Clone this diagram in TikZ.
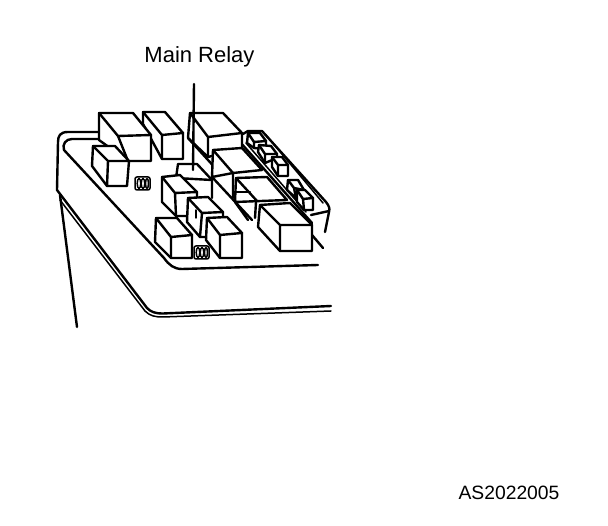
\documentclass[tikz,border=0pt]{standalone}
\usepackage{fontspec}
\setmainfont{Liberation Sans}
\tikzset{
  ln/.style={line width=1.5pt,line join=round,line cap=round,black},
  hv/.style={line width=2.4pt,line join=round,line cap=round,black},
  lbl/.style={inner sep=0pt,font=\fontsize{22}{26}\selectfont,text=black}
}
\newcommand{\rbox}[7]{%
  \fill[white] #1 -- #2 -- #3 -- #5 -- #6 -- #7 -- cycle;
  \draw[hv] #1 -- #2 -- #3 -- #5 -- #6 -- #7 -- cycle;
  \draw[hv] #1 -- #4 -- #3 #4 -- #6;
}
\newcommand{\fusegroup}[2]{%
  \draw[ln,fill=white,rounded corners=2pt] (#1,#2) rectangle ++(15,13);
  \draw[ln] (#1+4,#2+6.5) ellipse (1.8 and 5);
  \draw[ln] (#1+8,#2+6.5) ellipse (1.8 and 5);
  \draw[ln] (#1+12,#2+6.5) ellipse (1.5 and 5);
}
\begin{document}
\begin{tikzpicture}[x=1pt,y=-1pt]
\useasboundingbox (0,0) rectangle (608,526);
\fill[white] (0,0) rectangle (608,526);
\node[lbl] (title) at (199.5,56.5) {Main Relay};
\node[lbl,font=\fontsize{19.3}{23}\selectfont] (code) at (509,493) {AS2022005};
% housing
\draw[hv] (99,132) -- (68,132) .. controls (60,132) and (58,136) .. (58,142) -- (57,190) -- (147,308) .. controls (151,312) and (155,313.5) .. (163,313.5) -- (331,306);
\draw[ln] (60,200) -- (145,311) .. controls (150,316) and (155,317) .. (163,317) -- (331,311);
\draw[hv] (60,195) -- (77,327);
\draw[hv] (100,139) -- (72,139) .. controls (66,139) and (62,144) .. (64,150) -- (164,258) .. controls (169,265) and (174,269) .. (182,269) -- (318,265);
% right channel
\draw[hv] (243,134) -- (248,131) -- (262,131) -- (326,202) .. controls (329,206) and (330,208) .. (329,212) -- (325,232);
\draw[hv] (329,211) -- (311,215);
\draw[ln] (266,135) -- (323,203);
\draw[hv] (240,142) -- (312,223);
\draw[ln] (246,143) -- (306,212);
\draw[hv] (312,235) -- (323,248);
% small right boxes
\rbox{(248,133)}{(260,133)}{(266,141)}{(254,142)}{(266,149)}{(254,148)}{(247,143)}
\rbox{(259,145)}{(271,146)}{(277,154)}{(265,154)}{(277,158)}{(265,163)}{(258,152)}
\rbox{(272,157)}{(282,157)}{(288,165)}{(278,165)}{(288,176)}{(278,176)}{(272,167)}
\rbox{(288,180)}{(298,180)}{(304,190)}{(294,188)}{(304,194)}{(296,198)}{(287,190)}
\rbox{(297,190)}{(305,190)}{(313,198)}{(303,199)}{(313,210)}{(304,210)}{(297,202)}
% left group
\rbox{(143,112)}{(165,112)}{(183,133)}{(162,135)}{(183,159)}{(162,159)}{(143,124)}
\rbox{(99,113)}{(133,113)}{(151,135)}{(118,136)}{(151,161)}{(128,161)}{(99,140)}
\rbox{(93,146)}{(115,146)}{(129,161)}{(108,161)}{(127,186)}{(107,186)}{(92,166)}
\fusegroup{135}{177}
% relays and main relay
\rbox{(190,113)}{(223,113)}{(242,133)}{(208,137)}{(242,148)}{(208,157)}{(188,138)}
\draw[hv] (188,138) -- (228,182);
\draw[hv] (176,178) -- (178,164) -- (197,164) -- (212,180) -- (212,198);
\draw[hv] (176,178) -- (212,180);
% relay E
\fill[white] (213,150) -- (242,148) -- (262,170) -- (262,178) -- (236,200) -- (212,177) -- cycle;
\draw[hv] (212,177) -- (213,150) -- (242,148) -- (262,170) -- (233,173) -- cycle;
\draw[hv] (213,150) -- (233,173) -- (233,198);
\draw[hv] (212,177) -- (252,220);
% relay F
\fill[white] (236,178) -- (267,177) -- (287,200) -- (235,202) -- cycle;
\draw[hv] (235,202) -- (236,178) -- (267,177) -- (287,200) -- (235,202);
\draw[hv] (236,178) -- (257,201);
\draw[hv] (235,202) -- (248,220);
\draw[hv] (256,202) -- (255,218);
\draw[hv] (236,192) -- (250,192);
\rbox{(162,177)}{(180,175)}{(197,192)}{(175,193)}{(197,216)}{(176,216)}{(162,202)}
\rbox{(188,198)}{(208,197)}{(223,212)}{(202,213)}{(223,237)}{(200,237)}{(187,222)}
\draw[ln] (196,210) -- (196,218);
\rbox{(207,218)}{(227,217)}{(242,233)}{(220,235)}{(242,258)}{(220,258)}{(206,240)}
\rbox{(156,218)}{(177,218)}{(192,235)}{(171,237)}{(192,258)}{(171,258)}{(155,242)}
\rbox{(260,205)}{(290,203)}{(312,225)}{(280,225)}{(312,251)}{(280,251)}{(258,227)}
\fusegroup{194}{246}
% leader
\coordinate (leadtop) at (194,84);
\coordinate (leadend) at (193,170);
\draw[hv] (leadtop) -- (leadend);
\end{tikzpicture}
\end{document}
